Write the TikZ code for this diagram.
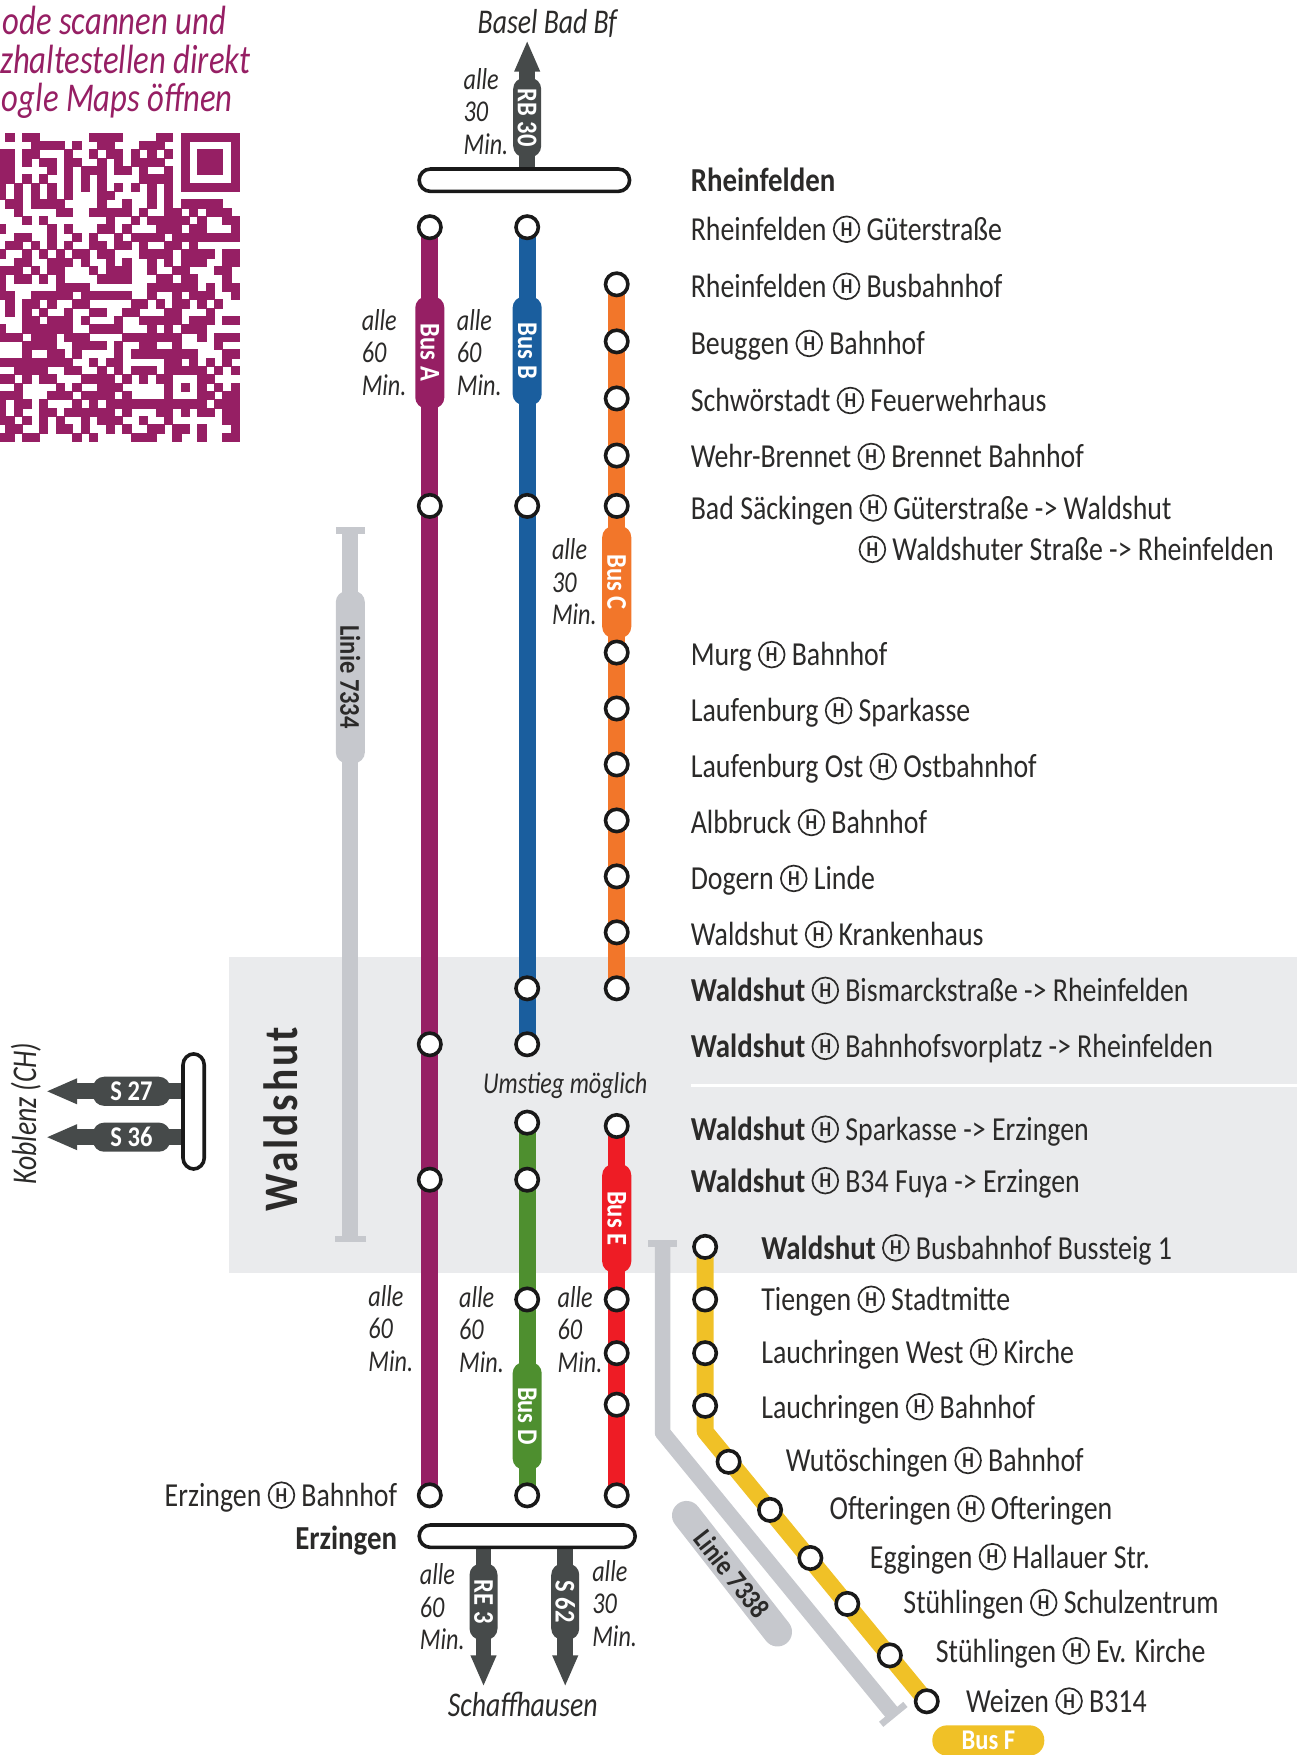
\documentclass[tikz,border=0pt]{standalone}
\usepackage{fontspec}
\usepackage{tikz}
\usetikzlibrary{arrows.meta}
\setmainfont[FakeStretch=0.83, BoldFeatures={FakeStretch=0.86}, ItalicFeatures={FakeStretch=0.8}]{Carlito}
\definecolor{busa}{HTML}{961F64}
\definecolor{busb}{HTML}{1A5E9E}
\definecolor{busc}{HTML}{F2762A}
\definecolor{busd}{HTML}{4E8F2F}
\definecolor{buse}{HTML}{EE1C25}
\definecolor{busf}{HTML}{F0C127}
\definecolor{railgrey}{HTML}{464A4A}
\definecolor{linegrey}{HTML}{C6C8CD}
\definecolor{bandgrey}{HTML}{EAEBED}
\definecolor{inkdark}{HTML}{2B2A29}
\newcommand{\hs}{\tikz[baseline={([yshift=-4pt]hbox.base)}]\node [circle, draw=inkdark, line width=1.5pt, inner sep=0pt, minimum size=23pt, text=inkdark, font=\fontsize{19}{19}\selectfont\bfseries] (hbox) {H};}
\pgfdeclarelayer{bg}
\pgfsetlayers{bg,main}
\tikzset{
	halt/.style={circle, draw=black!90, fill=white, line width=3.2pt, minimum size=20pt, inner sep=0pt},
	badge/.style={rectangle, rounded corners=10pt, inner sep=0pt, text=white, font=\bfseries\fontsize{25.5}{25.5}\selectfont},
	vbadge/.style={badge, rotate=-90, minimum width=#1, minimum height=26pt},
	hbadge/.style={badge, minimum width=#1, minimum height=26pt},
	hub/.style={rectangle, rounded corners=10pt, draw=black!90, fill=white, line width=3.2pt, inner sep=0pt},
	busline/.style={line width=15pt},
	railline/.style={railgrey, line width=14pt, -{Triangle[length=28pt,width=21pt]}},
	greyline/.style={linegrey, line width=14pt, line join=round, {Bar[width=26pt,line width=6pt]}-{Bar[width=28pt,line width=6pt]}},
	stn/.style={anchor=base west, text=inkdark, inner sep=0pt, font=\fontsize{30}{30}\selectfont},
	note/.style={anchor=base west, text=inkdark, inner sep=0pt, font=\itshape\fontsize{27}{27}\selectfont},
	place/.style={anchor=center, text=inkdark, inner sep=0pt, font=\itshape\fontsize{31}{31}\selectfont},
	qrtext/.style={anchor=base east, text=busa, inner sep=0pt, font=\itshape\fontsize{36.5}{36.5}\selectfont},
}

\begin{document}
\begin{tikzpicture}[x=1pt, y=-1pt]
	\useasboundingbox (0,0) rectangle (1166,1568);

	\begin{pgfonlayer}{bg}
		\fill [bandgrey] (205,855) rectangle (1159,1137);
		\fill [white] (617,968.5) rectangle (1159,971.5);
	\end{pgfonlayer}

	% qr code
	\foreach \cells [count=\r from 0] in {
		{1/2,3/5,11/15,19/21,22/29},
		{4/8,9/10,12/14,17/20,22/23,28/29},
		{0/2,3/5,8/9,11/12,13/15,16/17,18/19,20/21,22/23,24/27,28/29},
		{0/2,3/4,5/7,8/10,12/13,14/15,16/20,22/23,24/27,28/29},
		{0/2,6/7,8/9,10/13,14/16,17/18,20/21,22/23,24/27,28/29},
		{0/2,3/4,5/6,8/9,10/11,12/13,17/21,22/23,28/29},
		{0/1,2/3,4/5,6/7,8/9,10/11,12/13,14/15,16/17,18/19,20/21,22/29},
		{0/1,2/3,4/5,6/7,8/9,12/14,18/19,20/21},
		{1/3,4/8,12/13,15/16,18/19,20/21,22/27},
		{2/3,7/9,11/16,17/18,20/22,23/24,25/28},
		{3/4,5/6,13/14,16/17,18/23,24/25,27/29},
		{0/1,6/7,8/9,12/14,15/16,19/22,23/25,28/29},
		{2/4,6/7,9/10,11/12,14/15,16/20,21/29},
		{1/3,4/5,6/7,8/9,11/13,14/16,17/18,20/22,23/24},
		{0/1,3/4,5/6,7/8,9/11,12/14,17/21,22/26,27/29},
		{2/4,6/9,10/11,13/14,15/16,18/19,20/21,22/25,27/29},
		{0/3,4/5,6/8,11/12,13/16,18/19,21/23,26/28},
		{0/1,2/4,5/6,7/8,12/16,19/21,22/24,27/28},
		{0/1,7/11,18/24,25/26,27/29},
		{0/2,4/9,10/16,18/19,21/22,23/26,28/29},
		{1/2,3/5,6/7,9/11,16/18,19/20,21/23,24/25,26/27},
		{1/2,3/4,5/6,8/9,11/13,15/17,20/22,25/26},
		{3/5,6/9,10/11,14/15,17/22,23/26,27/29},
		{0/1,3/9,11/15,18/19,20/21,22/25},
		{0/3,4/7,8/11,15/22,24/25,26/29},
		{3/7,9/13,14/15,17/19,21/22,26/27},
		{3/4,6/8,9/10,14/15,16/24,27/29},
		{0/9,11/12,13/15,20/22,23/24,25/26,27/28},
		{2/6,8/10,12/13,14/15,16/19,20/25,26/27,28/29},
		{0/2,3/4,5/7,10/14,15/16,17/18,19/21,24/26},
		{2/3,7/8,9/10,12/15,20/21,22/23,24/25,26/27,28/29},
		{0/3,6/9,10/14,15/16,20/21,24/26,27/29},
		{0/1,2/4,5/6,9/10,11/12,13/25,26/29},
		{0/1,2/3,5/7,8/14,15/16,19/21,22/23,24/26,27/29},
		{0/2,3/4,5/6,7/8,10/11,12/15,17/18,20/21,27/29},
		{1/3,5/6,7/9,10/11,13/14,15/16,18/20,21/23,24/25,28/29},
		{0/2,3/5,9/10,11/12,16/19,21/22,24/25,27/29}} {
		\foreach \a/\b in \cells {
			\fill [busa, draw=busa, line width=0.2pt] ({213.6-7.45*(29-\a)},{118.5+7.45*\r}) rectangle ({213.6-7.45*(29-\b)},{118.5+7.45*(\r+1)});
		};
	};
	\node [qrtext] (qr-1) at (202,31) {ode scannen und};
	\node [qrtext] (qr-2) at (224,65.5) {zhaltestellen direkt};
	\node [qrtext] (qr-3) at (208,100) {ogle Maps öffnen};

	% hubs
	\node [hub, minimum width=188pt, minimum height=20pt] (hub-top) at (468.5,161) {};
	\node [hub, minimum width=193pt, minimum height=20pt] (hub-bot) at (471,1372.5) {};
	\node [hub, minimum width=19pt, minimum height=103pt] (hub-side) at (173,993) {};

	% stops
	\foreach \y [count=\i] in {203,452,933,1054,1336} {
		\node [halt] (a-\i) at (384,\y) {};
	};
	\foreach \y [count=\i] in {203,452,883,933} {
		\node [halt] (b-\i) at (471,\y) {};
	};
	\foreach \y [count=\i] in {254,305,356,407,452,583,633,683,733,783,833,883} {
		\node [halt] (c-\i) at (551,\y) {};
	};
	\foreach \y [count=\i] in {1003,1054,1161,1336} {
		\node [halt] (d-\i) at (471,\y) {};
	};
	\foreach \y [count=\i] in {1006,1161,1209,1255,1336} {
		\node [halt] (e-\i) at (551,\y) {};
	};
	\foreach \x/\y [count=\i] in {630/1114,630/1161,630/1209,630/1256,651/1306,688/1349,724/1392,757/1433,795/1479,828/1520} {
		\node [halt] (f-\i) at (\x,\y) {};
	};

	% badges
	\node [vbadge=100pt, fill=busa] (bus-a) at (384,315) {Bus A};
	\node [vbadge=97pt, fill=busb] (bus-b) at (471,313.5) {Bus B};
	\node [vbadge=100pt, fill=busc] (bus-c) at (551,520) {Bus C};
	\node [vbadge=96pt, fill=busd] (bus-d) at (471,1265) {Bus D};
	\node [vbadge=97pt, fill=buse] (bus-e) at (551,1088.5) {Bus E};
	\node [hbadge=100pt, fill=busf, minimum height=27pt, rounded corners=13pt] (bus-f) at (883,1555) {Bus F};
	\node [vbadge=71pt, fill=railgrey, minimum height=25pt] (rb30) at (471,105) {RB 30};
	\node [vbadge=68pt, fill=railgrey, minimum height=25pt] (re3) at (432,1431) {RE 3};
	\node [vbadge=68pt, fill=railgrey, minimum height=25pt] (s62) at (505,1431) {S 62};
	\node [hbadge=69pt, fill=railgrey] (s27) at (117.5,975) {S 27};
	\node [hbadge=69pt, fill=railgrey] (s36) at (117.5,1016) {S 36};
	\node [vbadge=154pt, fill=linegrey, text=inkdark] (l7334) at (313,605) {Linie 7334};
	\node [badge, rotate=-52, minimum width=158pt, minimum height=26pt, rounded corners=13pt, fill=linegrey, text=inkdark] (l7338) at (654,1406) {Linie 7338};

	% free ends
	\coordinate (rb30-end) at (471,36);
	\coordinate (re3-end) at (432,1507);
	\coordinate (s62-end) at (505,1507);
	\coordinate (s27-end) at (41,975);
	\coordinate (s36-end) at (41,1016);
	\coordinate (l7334-top) at (313,471);
	\coordinate (l7334-bot) at (313,1110);
	\coordinate (l7338-top) at (592,1108);
	\coordinate (l7338-bend) at (592,1280);
	\coordinate (l7338-bot) at (800,1534);
	\coordinate (f-bend) at (630,1279);

	\begin{pgfonlayer}{bg}
		\draw [greyline] (l7334-top) -- (l7334-bot);
		\draw [greyline] (l7338-top) -- (l7338-bend) -- (l7338-bot);
		\draw [busline, busa] (a-1.center) -- (a-5.center);
		\draw [busline, busb] (b-1.center) -- (b-4.center);
		\draw [busline, busc] (c-1.center) -- (c-12.center);
		\draw [busline, busd] (d-1.center) -- (d-4.center);
		\draw [busline, buse] (e-1.center) -- (e-5.center);
		\draw [busline, busf, line join=round] (f-1.center) -- (f-bend) -- (f-10.center);
		\draw [railline] (hub-top.north -| rb30) -- (rb30-end);
		\draw [railline] (hub-bot.south -| re3) -- (re3-end);
		\draw [railline] (hub-bot.south -| s62) -- (s62-end);
		\draw [railline] (hub-side.west |- s27) -- (s27-end);
		\draw [railline] (hub-side.west |- s36) -- (s36-end);
	\end{pgfonlayer}

	% station names
	\foreach \x/\y/\txt [count=\i] in {
		617/161/\textbf{Rheinfelden},
		617/205/Rheinfelden \hs{} Güterstraße,
		617/256/Rheinfelden \hs{} Busbahnhof,
		617/307/Beuggen \hs{} Bahnhof,
		617/358/Schwörstadt \hs{} Feuerwehrhaus,
		617/408/Wehr-Brennet \hs{} Brennet Bahnhof,
		617/454/Bad Säckingen \hs{} Güterstraße -> Waldshut,
		767/491/\hs{} Waldshuter Straße -> Rheinfelden,
		617/585/Murg \hs{} Bahnhof,
		617/635/Laufenburg \hs{} Sparkasse,
		617/685/Laufenburg Ost \hs{} Ostbahnhof,
		617/735/Albbruck \hs{} Bahnhof,
		617/785/Dogern \hs{} Linde,
		617/835/Waldshut \hs{} Krankenhaus,
		617/885/\textbf{Waldshut} \hs{} Bismarckstraße -> Rheinfelden,
		617/935/\textbf{Waldshut} \hs{} Bahnhofsvorplatz -> Rheinfelden,
		617/1009/\textbf{Waldshut} \hs{} Sparkasse -> Erzingen,
		617/1055/\textbf{Waldshut} \hs{} B34 Fuya -> Erzingen,
		680/1115/\textbf{Waldshut} \hs{} Busbahnhof Bussteig 1,
		680/1161/Tiengen \hs{} Stadtmitte,
		680/1208/Lauchringen West \hs{} Kirche,
		680/1257/Lauchringen \hs{} Bahnhof,
		702/1305/Wutöschingen \hs{} Bahnhof,
		741/1348/Ofteringen \hs{} Ofteringen,
		777/1391/Eggingen \hs{} Hallauer Str.,
		807/1432/Stühlingen \hs{} Schulzentrum,
		836/1475/Stühlingen \hs{} Ev. Kirche,
		863/1520/Weizen \hs{} B314} {
		\node [stn] (st-\i) at (\x,{\y+10}) {\txt};
	};
	\node [stn, anchor=base east] (st-erz) at (355,1346) {Erzingen \hs{} Bahnhof};
	\node [stn, anchor=base east] (st-erzb) at (355,1384) {\textbf{Erzingen}};

	% intervals
	\foreach \x/\y/\n [count=\i] in {414/71/30,323/286/60,408/286/60,493/491/30,329/1158/60,410/1159/60,498/1159/60,375/1407/60,529/1404/30} {
		\node [note] (alle-\i) at (\x,{\y+9}) {alle};
		\node [note] (num-\i) at (\x,{\y+38}) {\n};
		\node [note] (min-\i) at (\x,{\y+67}) {Min.};
	};

	\node [place] (basel) at (489,21) {Basel Bad Bf};
	\node [place] (schaff) at (467,1523) {Schaffhausen};
	\node [note, anchor=center] (umstieg) at (505,970) {Umstieg möglich};
	\node [place, rotate=90] (koblenz) at (23,995) {Koblenz (CH)};
	\node [anchor=center, rotate=90, inner sep=0pt, text=inkdark, font=\bfseries\fontsize{43}{43}\selectfont\addfontfeature{LetterSpace=6}] (waldshut) at (251,1000) {Waldshut};
\end{tikzpicture}
\end{document}
